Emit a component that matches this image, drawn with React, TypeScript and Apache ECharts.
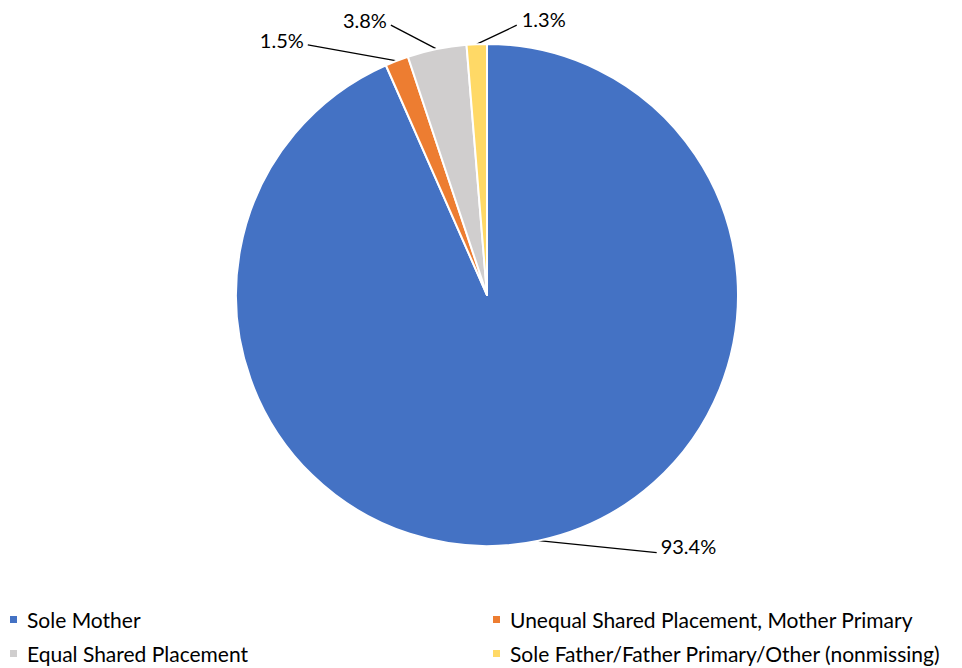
import React, { useEffect, useRef } from "react";
import * as echarts from "echarts";

const categories = [
  "Sole Mother",
  "Unequal Shared Placement, Mother Primary",
  "Equal Shared Placement",
  "Sole Father/Father Primary/Other (nonmissing)",
];
const values = [93.4, 1.5, 3.8, 1.3];
const colors = ["#4472C4", "#ED7D31", "#D0CECE", "#FFD966"];

// label offsets relative to each slice's anchor point: [lineEndDx, lineEndDy, labelDx, labelDy, align]
const labelOffsets: [number, number, number, number, string][] = [
  [118, 12, 122, 5, "left"],
  [-89, -16, -93, -21, "right"],
  [-46, -24, -50, -29, "right"],
  [40, -19, 45, -25, "left"],
];

export default function App() {
  const ref = useRef<HTMLDivElement>(null);
  useEffect(() => {
    const chart = echarts.init(ref.current!, undefined, { renderer: "svg" });
    const font = "Lato, 'Noto Sans', sans-serif";
    const legendBase = {
      orient: "vertical",
      top: 609,
      padding: 0,
      height: 59,
      itemWidth: 9,
      itemHeight: 9,
      itemGap: 13,
      icon: "rect",
      textStyle: {
        fontFamily: font,
        fontSize: 21,
        color: "#000",
        padding: [0, 0, 0, 4],
      },
    };
    chart.setOption({
      animation: false,
      backgroundColor: "#ffffff",
      color: colors,
      legend: [
        { ...legendBase, left: 8, data: [categories[0], categories[2]] },
        { ...legendBase, left: 491, data: [categories[1], categories[3]] },
      ],
      series: [
        {
          type: "pie",
          center: [487, 295],
          radius: 251,
          startAngle: 90,
          clockwise: true,
          itemStyle: { borderColor: "#ffffff", borderWidth: 2 },
          label: {
            show: true,
            position: "outside",
            formatter: (p: any) => `${Number(p.value).toFixed(1)}%`,
            fontFamily: font,
            fontSize: 20,
            color: "#000",
          },
          labelLine: {
            show: true,
            length: 10,
            length2: 10,
            lineStyle: { color: "#000", width: 1.3 },
          },
          labelLayout: (params: any) => {
            const pts = params.labelLinePoints;
            const a = pts ? pts[0] : [0, 0];
            const o = labelOffsets[params.dataIndex];
            return {
              x: a[0] + o[2],
              y: a[1] + o[3],
              align: o[4],
              verticalAlign: "middle",
              labelLinePoints: [
                [a[0], a[1]],
                [a[0] + o[0], a[1] + o[1]],
                [a[0] + o[0], a[1] + o[1]],
              ],
            };
          },
          data: categories.map((name, i) => ({ name, value: values[i] })),
        },
      ],
    });
    return () => chart.dispose();
  }, []);
  return (
    <div
      ref={ref}
      style={{ position: "fixed", left: 0, top: 0, width: 962, height: 668 }}
    />
  );
}
